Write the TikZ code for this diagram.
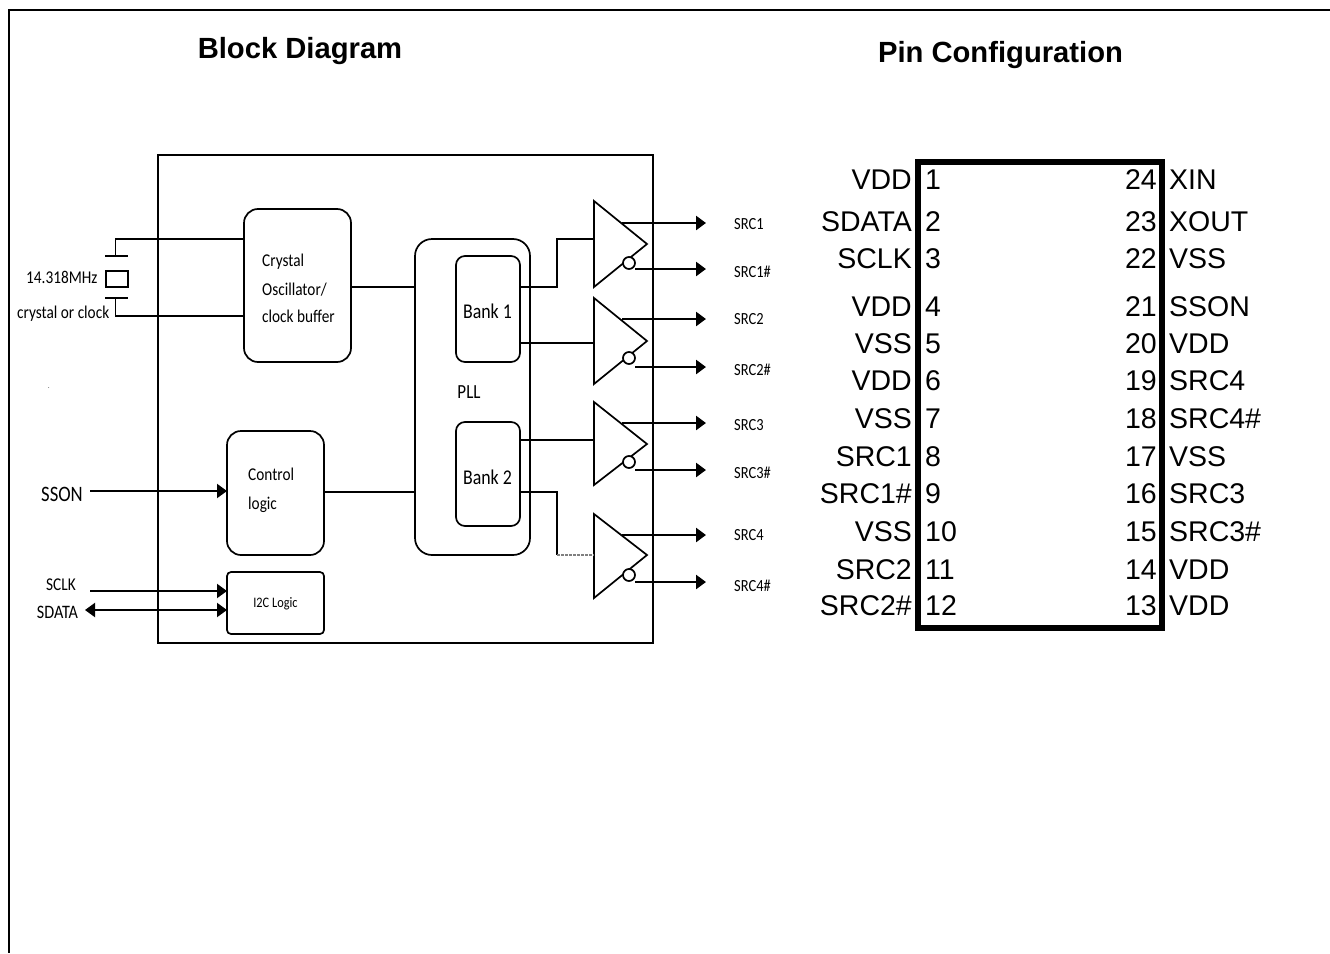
\documentclass[tikz,border=0pt]{standalone}
\usepackage{fontspec}
\setmainfont[FakeStretch=0.85]{Carlito}
\newfontfamily\arialf{Liberation Sans}
\usetikzlibrary{arrows.meta}
\tikzset{
  block/.style={draw,line width=1.7pt,rounded corners=#1,inner sep=0pt},
  wire/.style={line width=1.7pt},
  outp/.style={line width=2.5pt,-{Triangle[length=10pt,width=14pt]},shorten >=0pt},
  lbl/.style={inner sep=0pt,font=\fontsize{18}{18}\selectfont},
  pinl/.style={inner sep=0pt,font=\arialf\fontsize{28.5}{28.5}\selectfont},
  ttl/.style={inner sep=0pt,font=\arialf\bfseries\fontsize{29.2}{29.2}\selectfont},
  buf/.style={line width=1.7pt,draw,line join=miter},
  bub/.style={circle,draw,line width=1.7pt,fill=white,minimum size=12pt,inner sep=0pt},
}
\begin{document}
\begin{tikzpicture}[x=1pt,y=-1pt]
\useasboundingbox (0,0) rectangle (1330,953);
% page frame
\coordinate (pa) at (1330,10); \coordinate (pb) at (8.5,10); \coordinate (pc) at (8.5,953);
\draw[line width=2pt] (pa) -- (pb) -- (pc);
% titles
\node[ttl] (t1) at (300,51) {Block Diagram};
\node[ttl] (t2) at (1000.5,55) {Pin Configuration};
% chip outline
\node[draw,line width=1.5pt,minimum width=495pt,minimum height=488pt,inner sep=0pt] (chip) at (405.5,399) {};
% blocks
\node[block=14pt,minimum width=107pt,minimum height=153pt] (xtal) at (297.5,285.5) {};
\node[block=14pt,minimum width=97pt,minimum height=124pt] (ctrl) at (275.5,493) {};
\node[block=4pt,minimum width=97pt,minimum height=62pt] (i2c) at (275.5,603) {};
\node[block=17pt,minimum width=115pt,minimum height=316pt] (pll) at (472.5,397) {};
\node[block=9pt,minimum width=64pt,minimum height=106pt] (bank1) at (488,309) {};
\node[block=9pt,minimum width=64pt,minimum height=104pt] (bank2) at (488,474) {};
% block texts
\node[lbl,anchor=base west] (tx1) at (262,266) {Crystal};
\node[lbl,anchor=base west] (tx2) at (262,295) {Oscillator/};
\node[lbl,anchor=base west] (tx3) at (262,322) {clock buffer};
\node[lbl,anchor=base west] (tc1) at (248,480) {Control};
\node[lbl,anchor=base west] (tc2) at (248,509) {logic};
\node[lbl,font=\fontsize{14.5}{14.5}\selectfont] (ti) at (275.5,604) {I2C Logic};
\node[lbl,font=\fontsize{21}{21}\selectfont] (tb1) at (487.5,311) {Bank 1};
\node[lbl,font=\fontsize{21}{21}\selectfont] (tb2) at (487.5,477) {Bank 2};
\node[lbl,font=\fontsize{20}{20}\selectfont] (tp) at (469,392) {PLL};
% crystal symbol
\coordinate (c1a) at (105,256); \coordinate (c1b) at (128,256); \coordinate (c1m) at (115.5,256);
\coordinate (c2a) at (105,298); \coordinate (c2b) at (128,298); \coordinate (c2m) at (115.5,298);
\node[draw,line width=1.7pt,minimum width=22pt,minimum height=16pt,inner sep=0pt] (xrect) at (117,279) {};
\draw[wire] (c1a) -- (c1b);
\draw[wire] (c2a) -- (c2b);
\coordinate (x1) at (244,239); \coordinate (x2) at (244,316);
\draw[wire] (c1m) -- (c1m |- x1) -- (x1);
\draw[wire] (c2m) -- (c2m |- x2) -- (x2);
\node[lbl,anchor=base west] (t14) at (26,283) {14.318MHz};
\node[lbl,anchor=base west] (tcr) at (17,318) {crystal or clock};
\node[lbl,font=\fontsize{7}{7}\selectfont] (tdot) at (49,388) {.};
% left signals
\node[lbl,font=\fontsize{22}{22}\selectfont] (ts) at (62,494) {SSON};
\node[lbl] (tk) at (61,585) {SCLK};
\node[lbl,font=\fontsize{19}{19}\selectfont] (td) at (57.5,612) {SDATA};
\coordinate (sa) at (90,491); \coordinate (sb) at (227,491);
\coordinate (ka) at (90,591); \coordinate (kb) at (227,591);
\coordinate (da) at (85,610); \coordinate (db) at (227,610);
\draw[outp,line width=2pt] (sa) -- (sb);
\draw[outp,line width=2pt] (ka) -- (kb);
\draw[line width=2pt,{Triangle[length=10pt,width=14pt]}-{Triangle[length=10pt,width=14pt]}] (da) -- (db);
% PLL feeds
\coordinate (p1) at (415,287); \coordinate (p2) at (415,492);
\draw[wire] (xtal.east |- p1) -- (p1);
\draw[wire] (ctrl.east |- p2) -- (p2);
% buffers
\foreach \n/\yt/\ym/\yb/\yq/\yo/\yn in {1/201/244/287/263/223/269, 2/298/341/384/358/319/367, 3/402/444/485/462/423/470, 4/514/555/598/575/535/582}{
  \coordinate (a\n) at (594,\yt);
  \coordinate (b\n) at (594,\yb);
  \coordinate (tip\n) at (647,\ym);
  \coordinate (o\n) at (622,\yo);
  \coordinate (oe\n) at (706,\yo);
  \coordinate (n\n) at (635,\yn);
  \coordinate (ne\n) at (706,\yn);
  \draw[buf] (a\n) -- (tip\n) -- (b\n) -- cycle;
  \draw[outp] (o\n) -- (oe\n);
  \draw[outp] (n\n) -- (ne\n);
  \node[bub] (q\n) at (629,\yq) {};
}
% bank to buffer wires
\coordinate (w1) at (557,287); \coordinate (i1) at (594,239);
\draw[wire] (w1 -| bank1.east) -- (w1) -- (w1 |- i1) -- (i1);
\coordinate (i2) at (594,343);
\draw[wire] (i2 -| bank1.east) -- (i2);
\coordinate (i3) at (594,440);
\draw[wire] (i3 -| bank2.east) -- (i3);
\coordinate (w4) at (557,492); \coordinate (w5) at (557,555); \coordinate (i4) at (594,555);
\draw[wire] (w4 -| bank2.east) -- (w4) -- (w5);
\draw[gray,line width=1.2pt,dash pattern=on 2.5pt off 1.5pt] (w5) -- (i4);
% output labels
\foreach \n/\t/\y in {a/SRC1/224,b/SRC1\#/272,c/SRC2/319,d/SRC2\#/370,e/SRC3/425,f/SRC3\#/473,g/SRC4/535,h/SRC4\#/586}{
  \node[lbl,anchor=west,font=\fontsize{17}{17}\selectfont] (o\n) at (734,\y) {\t};
}
% pin box
\node[draw,line width=6pt,minimum width=244pt,minimum height=466pt,inner sep=0pt] (pins) at (1040,394.5) {};
% pins
\foreach \n/\nr/\l/\r/\y in {1/24/VDD/XIN/179,2/23/SDATA/XOUT/221,3/22/SCLK/VSS/258,4/21/VDD/SSON/306,5/20/VSS/VDD/343,6/19/VDD/SRC4/380,7/18/VSS/SRC4\#/418,8/17/SRC1/VSS/456,9/16/SRC1\#/SRC3/493,10/15/VSS/SRC3\#/531,11/14/SRC2/VDD/569,12/13/SRC2\#/VDD/605}{
  \pgfmathsetmacro{\yb}{\y+10}
  \node[pinl,anchor=base east] (l\n) at (912,\yb) {\l};
  \node[pinl,anchor=base west] (m\n) at (925,\yb) {\n};
  \node[pinl,anchor=base east] (m\nr) at (1157,\yb) {\nr};
  \node[pinl,anchor=base west] (r\nr) at (1169,\yb) {\r};
}
\end{tikzpicture}
\end{document}
